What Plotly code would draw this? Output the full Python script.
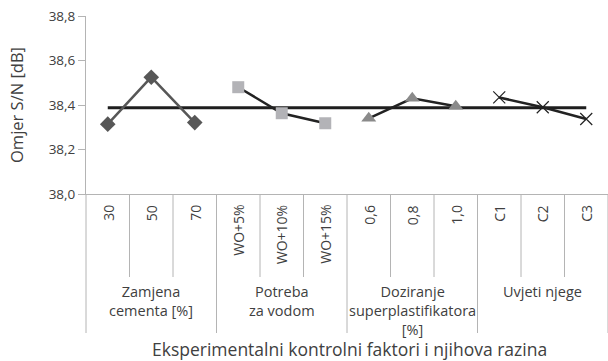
import plotly.graph_objects as go

# Factor levels (inner x categories) grouped by experimental factor
groups = ["Zamjena<br>cementa [%]", "Potreba<br>za vodom",
          "Doziranje<br>superplastifikatora<br>[%]", "Uvjeti njege"]
levels_cement = ["30", "50", "70"]
levels_water = ["WO+5%", "WO+10%", "WO+15%"]
levels_sp = ["0,6", "0,8", "1,0"]
levels_cure = ["C1", "C2", "C3"]

# Mean S/N ratio per level [dB]
sn_cement = [38.314, 38.525, 38.321]
sn_water = [38.480, 38.363, 38.318]
sn_sp = [38.340, 38.430, 38.394]
sn_cure = [38.434, 38.390, 38.337]
sn_overall = 38.388

y_ticks = [38.0, 38.2, 38.4, 38.6, 38.8]

all_levels = levels_cement + levels_water + levels_sp + levels_cure
n_cat = len(all_levels)

TXT = "#404040"
GRID = "#b4b4b4"
FONT = "Open Sans"

fig = go.Figure()

# Overall mean line
fig.add_trace(go.Scatter(
    x=[all_levels[0], all_levels[-1]], y=[sn_overall, sn_overall],
    mode="lines", line=dict(color="#1e1e1e", width=3), showlegend=False))

series = [
    (levels_cement, sn_cement, "diamond", 12, "#575757", "#575757", None),
    (levels_water, sn_water, "square", 12, "#b3b3b7", "#222222", None),
    (levels_sp, sn_sp, "triangle-up", 13, "#8a8a8a", "#222222", None),
    (levels_cure, sn_cure, "x-thin-open", 12, "#222222", "#222222", 1.2),
]
for xs, ys, sym, size, mcol, lcol, mlw in series:
    marker = dict(symbol=sym, size=size, color=mcol)
    if mlw:
        marker["line"] = dict(color=mcol, width=mlw)
    else:
        marker["line"] = dict(width=0)
    fig.add_trace(go.Scatter(
        x=xs, y=ys, mode="lines+markers",
        line=dict(color=lcol, width=2.5), marker=marker, showlegend=False))

# Pixel geometry of the category band below the axis (paper units)
plot_h = 178.0
def py(pixels_below_axis):
    return -pixels_below_axis / plot_h

shapes = []
for i in range(n_cat + 1):
    is_group_edge = (i % 3 == 0)
    shapes.append(dict(
        type="line", xref="paper", yref="paper",
        x0=i / n_cat, x1=i / n_cat, y0=0,
        y1=py(139) if is_group_edge else py(83),
        line=dict(color=GRID, width=1)))

annotations = []
for i, lvl in enumerate(all_levels):
    annotations.append(dict(
        x=(i + 0.5) / n_cat, xref="paper", y=py(9), yref="paper",
        text=lvl, textangle=-90,
        showarrow=False, xanchor="center", yanchor="top",
        font=dict(family=FONT, size=14, color=TXT)))
for g, name in enumerate(groups):
    annotations.append(dict(
        x=(g * 3 + 1.5) / n_cat, xref="paper", y=py(86), yref="paper",
        text=name, showarrow=False, xanchor="center", yanchor="top",
        font=dict(family=FONT, size=14.5, color=TXT)))
annotations.append(dict(
    x=0.505, xref="paper", y=py(155), yref="paper",
    text="Eksperimentalni kontrolni faktori i njihova razina",
    showarrow=False, xanchor="center", yanchor="middle",
    font=dict(family=FONT, size=17.5, color=TXT)))

fig.update_layout(
    width=608, height=361,
    margin=dict(l=86, r=0, t=16, b=167),
    paper_bgcolor="white", plot_bgcolor="white",
    separators=", ",
    font=dict(family=FONT, color=TXT),
    shapes=shapes, annotations=annotations,
    xaxis=dict(type="category", categoryorder="array", categoryarray=all_levels,
               range=[-0.5, n_cat - 0.5], showticklabels=False, ticks="",
               showgrid=False, zeroline=False, showline=True,
               linecolor=GRID, linewidth=1),
    yaxis=dict(range=[38.0, 38.8], tickvals=y_ticks, tickformat=".1f",
               ticks="outside", ticklen=7, tickcolor=GRID,
               showgrid=False, zeroline=False, showline=True,
               linecolor=GRID, linewidth=1,
               tickfont=dict(family=FONT, size=13.5, color=TXT),
               title=dict(text="Omjer S/N [dB]", standoff=20,
                          font=dict(family=FONT, size=16.5, color=TXT))),
)

fig.write_html("out.html")
